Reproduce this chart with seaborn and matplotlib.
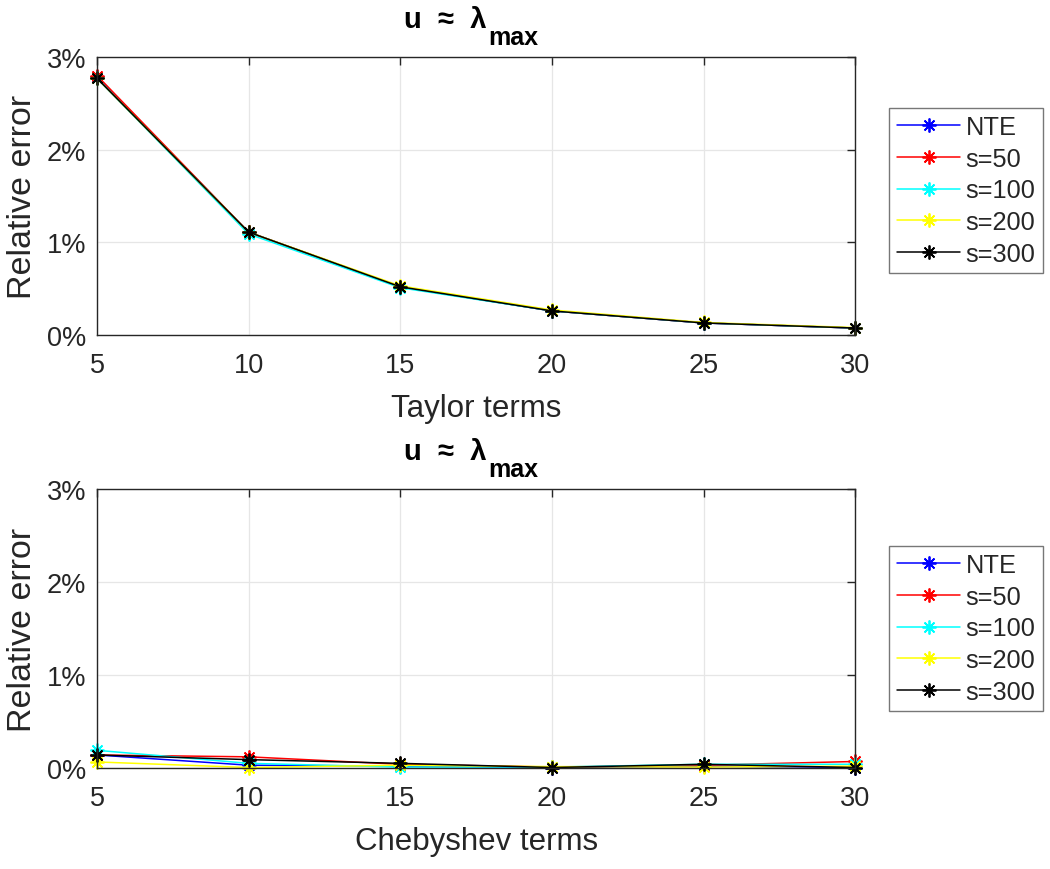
import numpy as np
import pandas as pd
import matplotlib
matplotlib.use("Agg")
import matplotlib.pyplot as plt
import seaborn as sns
from matplotlib.ticker import FuncFormatter

terms = [5, 10, 15, 20, 25, 30]
series_names = ["NTE", "s=50", "s=100", "s=200", "s=300"]
colors = ["#0000ff", "#ff0000", "#00ffff", "#ffff00", "#000000"]

# relative error in %
taylor_nte = [2.78, 1.11, 0.52, 0.26, 0.13, 0.075]
taylor_s50 = [2.80, 1.11, 0.52, 0.26, 0.13, 0.075]
taylor_s100 = [2.77, 1.09, 0.51, 0.26, 0.13, 0.075]
taylor_s200 = [2.77, 1.11, 0.53, 0.27, 0.135, 0.08]
taylor_s300 = [2.77, 1.11, 0.52, 0.26, 0.13, 0.075]

cheb_nte = [0.14, 0.03, 0.02, 0.005, 0.02, 0.005]
cheb_s50 = [0.14, 0.12, 0.04, 0.01, 0.03, 0.07]
cheb_s100 = [0.19, 0.05, 0.01, 0.01, 0.04, 0.04]
cheb_s200 = [0.065, 0.005, 0.03, 0.015, 0.01, 0.02]
cheb_s300 = [0.14, 0.09, 0.05, 0.005, 0.04, 0.005]

y_ticks = [0, 1, 2, 3]
title_main = "u  \u2248  \u03bb"
title_sub = "max"

sns.set_theme(style="white")
plt.rcParams['font.family'] = ['Liberation Sans', 'DejaVu Sans']


def long_df(series):
    rows = []
    for name, vals in zip(series_names, series):
        for t, v in zip(terms, vals):
            rows.append({"terms": t, "err": v, "series": name})
    return pd.DataFrame(rows)


fig = plt.figure(figsize=(10.5, 8.7), dpi=100)
ax1 = fig.add_axes([0.0924, 0.6138, 0.722, 0.3195])
ax2 = fig.add_axes([0.0924, 0.1161, 0.722, 0.3207])

panels = [
    (ax1, [taylor_nte, taylor_s50, taylor_s100, taylor_s200, taylor_s300], "Taylor terms", 0.52),
    (ax2, [cheb_nte, cheb_s50, cheb_s100, cheb_s200, cheb_s300], "Chebyshev terms", 0.50),
]

edge = "#262626"
for ax, series, xlabel, leg_y in panels:
    df = long_df(series)
    sns.lineplot(data=df, x="terms", y="err", hue="series", hue_order=series_names,
                 palette=colors, marker=(8, 2, 0), markersize=10, markeredgewidth=1.3,
                 linewidth=1.1, ax=ax, legend=True, sort=False)
    for line in ax.get_lines():
        line.set_markeredgecolor(line.get_color())
        line.set_clip_on(False)
    ax.set_xlim(5, 30)
    ax.set_ylim(0, 3)
    ax.set_xticks(terms)
    ax.set_yticks(y_ticks)
    ax.yaxis.set_major_formatter(FuncFormatter(lambda v, p: f"{int(round(v))}%"))
    ax.grid(True, color="#e6e6e6", linewidth=0.9)
    ax.set_axisbelow(True)
    ax.tick_params(direction="in", top=True, right=True, length=6, width=1,
                   color=edge, labelsize=19.5, labelcolor=edge)
    ax.tick_params(axis="x", pad=12)
    ax.tick_params(axis="y", pad=8)
    for sp in ax.spines.values():
        sp.set_color(edge)
        sp.set_linewidth(1)
    ax.set_xlabel(xlabel, fontsize=22.5, color=edge, labelpad=11)
    ax.set_ylabel("Relative error", fontsize=24.5, color=edge, labelpad=6)
    t = ax.annotate(title_main, xy=(0.405, 1.0), xycoords="axes fraction",
                    xytext=(0, 21.5), textcoords="offset points",
                    ha="left", va="baseline", fontsize=21, fontweight="bold",
                    color="black")
    ax.annotate(title_sub, xy=(1, 0), xycoords=t, xytext=(1, -8),
                textcoords="offset points", ha="left", va="baseline",
                fontsize=18, fontweight="bold", color="black")
    leg = ax.legend(loc="center left", bbox_to_anchor=(1.045, leg_y), fontsize=18.3,
                    frameon=True, fancybox=False, edgecolor="#555555",
                    handlelength=2.5, handletextpad=0.2, borderpad=0.3,
                    labelspacing=0.3, borderaxespad=0)
    leg.get_frame().set_linewidth(1)
    for h in leg.legend_handles:
        h.set_markeredgecolor(h.get_color())

fig.savefig("out.png", dpi=100, facecolor="white")
